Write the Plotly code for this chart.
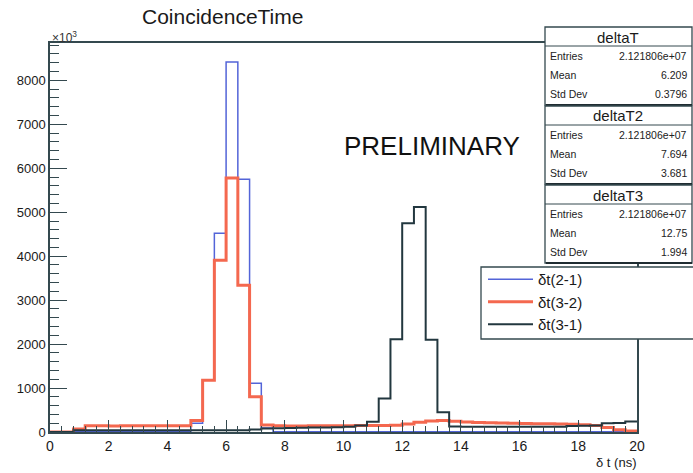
import plotly.graph_objects as go

# ---------------- data (plotted units, axis labelled x10^3) ----------------
bin_width = 0.4
x_min, x_max = 0.0, 20.0

# delta t(2-1) : histogram deltaT
dt21 = [0, 0] + [15] * 10 + [200, 1180, 4520, 8420, 5750, 1110, 90] + [5] * 31

# delta t(3-2) : histogram deltaT2
dt32 = ([0, 0, 70] + [140, 140, 135, 140, 140, 145, 140, 140, 145] +
        [260, 1180, 3910, 5780, 3340, 800, 160] +
        [140, 135, 135, 140, 140, 145, 145, 150, 150, 150, 155] +
        [180, 220, 250, 260, 245, 225, 215, 210, 205, 200, 195, 190, 185, 180,
         175, 165, 150, 100, 50, 20])

# delta t(3-1) : histogram deltaT3
dt31 = ([0, 0] + [40] * 15 + [55, 80, 85, 90, 95, 100, 105, 110, 120, 150, 235] +
        [760, 2110, 4750, 5120, 2100, 450, 125] + [120] * 9 +
        [135, 140, 150, 200, 205, 240])

series_names = ["δt(2-1)", "δt(3-2)", "δt(3-1)"]

stat_titles = ["deltaT", "deltaT2", "deltaT3"]
stat_entries = ["2.121806e+07", "2.121806e+07", "2.121806e+07"]
stat_means = ["6.209", "7.694", "12.75"]
stat_stds = ["0.3796", "3.681", "1.994"]

x_ticks = list(range(0, 21, 2))
y_max = 8850

# ---------------- layout constants ----------------
W, H = 693, 473
L, R, T, B = 50, 56, 43, 41
PW, PH = W - L - R, H - T - B
FRAME = "#34494f"
FONT = "Liberation Sans, Arial, Helvetica, sans-serif"


def px(x):
    return (x - L) / PW


def py(y):
    return (H - B - y) / PH


nb = len(dt21)
edges = [x_min + i * bin_width for i in range(nb + 1)]

fig = go.Figure()
colors = ["#5364d8", "#f4684f", "#22373f"]
widths = [1.5, 3.0, 2.0]
for name, vals, c, w in zip(series_names, [dt21, dt32, dt31], colors, widths):
    fig.add_trace(go.Scatter(
        x=edges, y=list(vals) + [vals[-1]], mode="lines", name=name,
        line=dict(color=c, width=w, shape="hv"),
    ))

shapes = []
annotations = []

# title and texts
annotations.append(dict(text="CoincidenceTime", x=px(140), y=py(16), xref="paper", yref="paper",
                        xanchor="left", yanchor="middle", showarrow=False,
                        font=dict(family=FONT, size=21, color="#1a1a1a")))
annotations.append(dict(text="×10<sup>3</sup>", x=px(50), y=py(37), xref="paper", yref="paper",
                        xanchor="left", yanchor="middle", showarrow=False,
                        font=dict(family=FONT, size=12, color="#333333")))
annotations.append(dict(text="PRELIMINARY", x=px(432), y=py(146), xref="paper", yref="paper",
                        xanchor="center", yanchor="middle", showarrow=False,
                        font=dict(family=FONT, size=26, color="#111111")))
annotations.append(dict(text="δ t (ns)", x=px(638), y=py(462), xref="paper", yref="paper",
                        xanchor="right", yanchor="middle", showarrow=False,
                        font=dict(family=FONT, size=13, color="#1a1a1a")))

# stat boxes
box_tops = [27, 106, 185]
for i in range(3):
    top = box_tops[i]
    bot = top + 78
    sep = top + 19
    shapes.append(dict(type="rect", xref="paper", yref="paper", x0=px(545), x1=px(692),
                       y0=py(bot), y1=py(top), fillcolor="white",
                       line=dict(color=FRAME, width=1.3), layer="above"))
    shapes.append(dict(type="line", xref="paper", yref="paper", x0=px(545), x1=px(692),
                       y0=py(sep), y1=py(sep), line=dict(color=FRAME, width=1), layer="above"))
    shapes.append(dict(type="line", xref="paper", yref="paper", x0=px(546), x1=px(692),
                       y0=py(bot), y1=py(bot), line=dict(color="#1f2c31", width=2.2), layer="above"))
    annotations.append(dict(text=stat_titles[i], x=px(618), y=py(top + 10), xref="paper", yref="paper",
                            xanchor="center", yanchor="middle", showarrow=False,
                            font=dict(family=FONT, size=15, color="#1a1a1a")))
    rows = [("Entries", stat_entries[i]), ("Mean", stat_means[i]), ("Std Dev", stat_stds[i])]
    for j, (lab, val) in enumerate(rows):
        yy = top + 29 + j * 19
        annotations.append(dict(text=lab, x=px(548), y=py(yy), xref="paper", yref="paper",
                                xanchor="left", yanchor="middle", showarrow=False,
                                font=dict(family=FONT, size=10.5, color="#222222")))
        annotations.append(dict(text=val, x=px(689), y=py(yy), xref="paper", yref="paper",
                                xanchor="right", yanchor="middle", showarrow=False,
                                font=dict(family=FONT, size=10.5, color="#222222")))

# legend box
shapes.append(dict(type="rect", xref="paper", yref="paper", x0=px(481), x1=px(705),
                   y0=py(339), y1=py(267), fillcolor="white",
                   line=dict(color=FRAME, width=1.3), layer="above"))

fig.update_layout(
    width=W, height=H,
    margin=dict(l=L, r=R, t=T, b=B, pad=0),
    paper_bgcolor="white", plot_bgcolor="white",
    showlegend=True,
    legend=dict(x=px(483), y=py(263), xanchor="left", yanchor="top",
                bgcolor="rgba(0,0,0,0)", borderwidth=0, itemwidth=45,
                font=dict(family=FONT, size=15, color="#1a1a1a"),
                tracegroupgap=0),
    shapes=shapes, annotations=annotations,
    xaxis=dict(range=[x_min, x_max], tickvals=x_ticks, ticks="inside", ticklen=12,
               tickwidth=1, tickcolor=FRAME, showline=True, linecolor=FRAME, linewidth=1.5,
               mirror=True, showgrid=False, zeroline=False,
               tickfont=dict(family=FONT, size=14, color="#1a1a1a"),
               minor=dict(dtick=0.4, tick0=0, ticklen=6, ticks="inside", tickcolor=FRAME,
                          showgrid=False)),
    yaxis=dict(range=[0, y_max], dtick=1000, tick0=0, ticks="inside", ticklen=17,
               tickwidth=1, tickcolor=FRAME, showline=True, linecolor=FRAME, linewidth=1.5,
               mirror=True, showgrid=False, zeroline=False,
               tickfont=dict(family=FONT, size=13, color="#1a1a1a"),
               minor=dict(dtick=200, tick0=0, ticklen=9, ticks="inside", tickcolor=FRAME,
                          showgrid=False)),
)

fig.write_html("out.html", config={"displayModeBar": False},
               post_script="document.body.style.margin='0';document.body.style.overflow='hidden';")
